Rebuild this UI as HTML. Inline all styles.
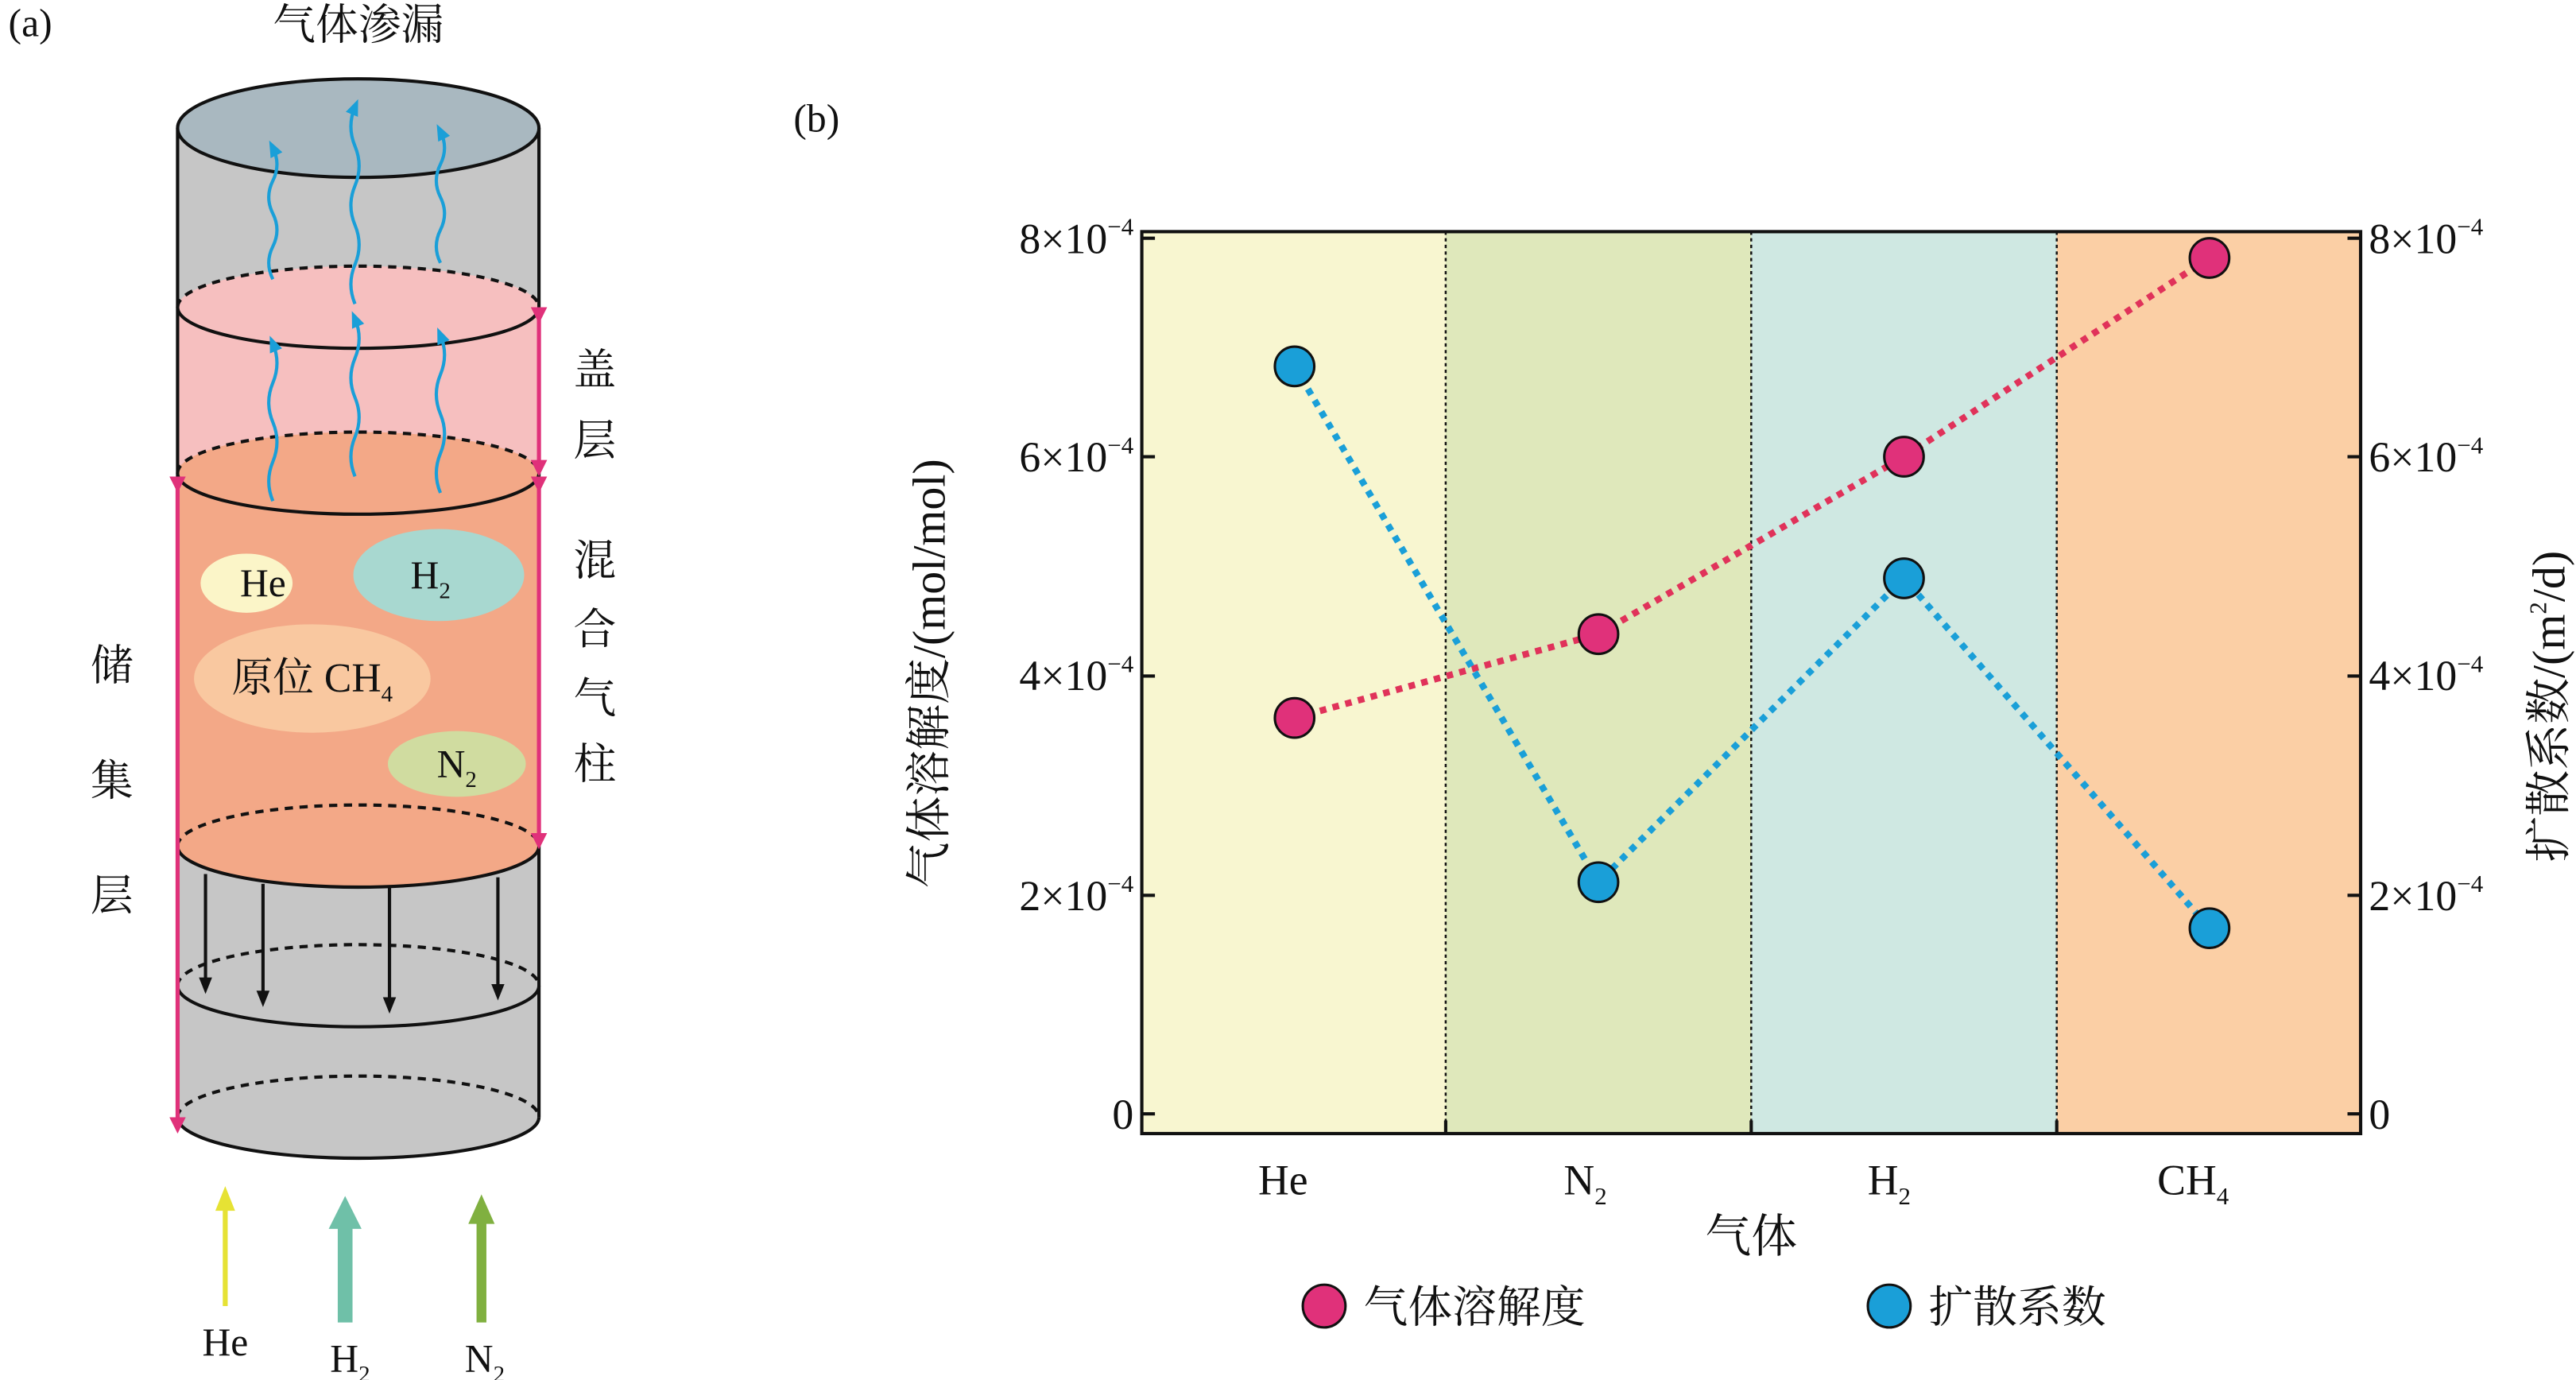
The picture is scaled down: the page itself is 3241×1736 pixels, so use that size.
<!DOCTYPE html>
<html><head><meta charset="utf-8"><style>
html,body{margin:0;padding:0;background:#fff;}
svg{display:block;}
text{font-family:"Liberation Serif","Noto Serif CJK SC","Noto Sans CJK SC",serif;fill:#111;}
</style></head><body>
<svg width="3241" height="1736" viewBox="0 0 1568 840" xmlns="http://www.w3.org/2000/svg">
<defs>
<marker id="ah" markerWidth="10" markerHeight="10" refX="5" refY="5" orient="auto" markerUnits="userSpaceOnUse"><path d="M0,0 L10,5 L0,10 z" fill="#e0317a"/></marker>
<marker id="ak" markerWidth="10" markerHeight="10" refX="5" refY="5" orient="auto" markerUnits="userSpaceOnUse"><path d="M0,1 L10,5 L0,9 z" fill="#111"/></marker>
<marker id="ab" markerWidth="10" markerHeight="10" refX="5" refY="5" orient="auto" markerUnits="userSpaceOnUse"><path d="M0,1 L10,5 L0,9 z" fill="#1a9fd8"/></marker>
</defs>
<text x="5" y="22" font-size="24">(a)</text>
<text x="218" y="24" font-size="26" text-anchor="middle">气体渗漏</text>
<rect x="108" y="78" width="220" height="602" fill="#c6c6c6"/>
<ellipse cx="218" cy="680" rx="110" ry="25" fill="#c6c6c6"/>
<path d="M108,187 A110,25 0 0 1 328,187 L328,288 A110,25 0 0 1 108,288 Z" fill="#f6bfbf"/>
<path d="M108,288 A110,25 0 0 1 328,288 L328,515 A110,25 0 0 1 108,515 Z" fill="#f3a887"/>
<ellipse cx="218" cy="78" rx="110" ry="30" fill="#a9b8c0" stroke="#111" stroke-width="2"/>
<line x1="108" y1="78" x2="108" y2="680" stroke="#111" stroke-width="2"/>
<line x1="328" y1="78" x2="328" y2="680" stroke="#111" stroke-width="2"/>
<g fill="none" stroke="#111" stroke-width="2">
<path d="M108,187 A110,25 0 0 1 328,187" stroke-dasharray="5,4"/><path d="M108,187 A110,25 0 0 0 328,187"/>
<path d="M108,288 A110,25 0 0 1 328,288" stroke-dasharray="5,4"/><path d="M108,288 A110,25 0 0 0 328,288"/>
<path d="M108,515 A110,25 0 0 1 328,515" stroke-dasharray="5,4"/><path d="M108,515 A110,25 0 0 0 328,515"/>
<path d="M108,600 A110,25 0 0 1 328,600" stroke-dasharray="5,4"/><path d="M108,600 A110,25 0 0 0 328,600"/>
<path d="M108,680 A110,25 0 0 1 328,680" stroke-dasharray="5,4"/><path d="M108,680 A110,25 0 0 0 328,680"/>
</g>
<g stroke="#e0317a" stroke-width="2.5">
<line x1="328" y1="192" x2="328" y2="285" marker-start="url(#ah)" marker-end="url(#ah)"/>
<line x1="328" y1="295" x2="328" y2="512" marker-start="url(#ah)" marker-end="url(#ah)"/>
<line x1="108" y1="295" x2="108" y2="685" marker-start="url(#ah)" marker-end="url(#ah)"/>
</g>
<g fill="none" stroke="#1a9fd8" stroke-width="2">
<path d="M166,170 q-5,-10 0,-20 q5,-10 0,-20 q-5,-10 0,-20 q5,-10 0,-20" marker-end="url(#ab)"/>
<path d="M216,185 q-5,-12 0,-24 q5,-12 0,-24 q-5,-12 0,-24 q5,-12 0,-24 q-5,-12 0,-24" marker-end="url(#ab)"/>
<path d="M268,160 q-5,-10 0,-20 q5,-10 0,-20 q-5,-10 0,-20 q5,-10 0,-20" marker-end="url(#ab)"/>
<path d="M166,305 q-5,-12 0,-24 q5,-12 0,-24 q-5,-12 0,-24 q5,-12 0,-24" marker-end="url(#ab)"/>
<path d="M216,290 q-5,-12 0,-24 q5,-12 0,-24 q-5,-12 0,-24 q5,-12 0,-24" marker-end="url(#ab)"/>
<path d="M268,300 q-5,-12 0,-24 q5,-12 0,-24 q-5,-12 0,-24 q5,-12 0,-24" marker-end="url(#ab)"/>
</g>
<ellipse cx="150" cy="355" rx="28" ry="18" fill="#fbf5c8"/>
<text x="160" y="363" font-size="24" text-anchor="middle">He</text>
<ellipse cx="267" cy="350" rx="52" ry="28" fill="#a8d8d0"/>
<text x="262" y="358" font-size="24" text-anchor="middle">H<tspan font-size="14" dy="6">2</tspan></text>
<ellipse cx="190" cy="413" rx="72" ry="33" fill="#f9c8a0"/>
<text x="190" y="421" font-size="25" text-anchor="middle">原位 CH<tspan font-size="14" dy="6">4</tspan></text>
<ellipse cx="278" cy="465" rx="42" ry="20" fill="#d0dca0"/>
<text x="278" y="473" font-size="24" text-anchor="middle">N<tspan font-size="14" dy="6">2</tspan></text>
<g stroke="#111" stroke-width="2">
<line x1="125" y1="532" x2="125" y2="600" marker-end="url(#ak)"/>
<line x1="160" y1="538" x2="160" y2="608" marker-end="url(#ak)"/>
<line x1="237" y1="540" x2="237" y2="612" marker-end="url(#ak)"/>
<line x1="303" y1="534" x2="303" y2="604" marker-end="url(#ak)"/>
</g>
<g font-size="26" text-anchor="middle">
<text x="362" y="234">盖</text><text x="362" y="277">层</text>
<text x="362" y="350">混</text><text x="362" y="392">合</text><text x="362" y="434">气</text><text x="362" y="474">柱</text>
<text x="68" y="414">储</text><text x="68" y="484">集</text><text x="68" y="554">层</text>
</g>
<line x1="137" y1="795" x2="137" y2="735" stroke="#e6e234" stroke-width="3"/><path d="M131,737 L137,722 L143,737 z" fill="#e6e234"/>
<line x1="210" y1="805" x2="210" y2="745" stroke="#6fc0a8" stroke-width="9"/><path d="M200,748 L210,728 L220,748 z" fill="#6fc0a8"/>
<line x1="293" y1="805" x2="293" y2="742" stroke="#80b040" stroke-width="6"/><path d="M285,745 L293,727 L301,745 z" fill="#80b040"/>
<text x="137" y="825" font-size="24" text-anchor="middle">He</text>
<text x="213" y="835" font-size="24" text-anchor="middle">H<tspan font-size="14" dy="6">2</tspan></text>
<text x="295" y="835" font-size="24" text-anchor="middle">N<tspan font-size="14" dy="6">2</tspan></text>

<text x="483" y="80" font-size="24">(b)</text>
<rect x="695" y="141" width="185" height="549" fill="#f8f6d0"/>
<rect x="880" y="141" width="186" height="549" fill="#dfe8bb"/>
<rect x="1066" y="141" width="186" height="549" fill="#cfe8e2"/>
<rect x="1252" y="141" width="185" height="549" fill="#fbcfa5"/>
<g stroke="#111" stroke-width="1.2" stroke-dasharray="2,2">
<line x1="880" y1="141" x2="880" y2="690"/><line x1="1066" y1="141" x2="1066" y2="690"/><line x1="1252" y1="141" x2="1252" y2="690"/>
</g>
<rect x="695" y="141" width="742" height="549" fill="none" stroke="#111" stroke-width="2"/>
<g stroke="#111" stroke-width="2">
<line x1="695" y1="678" x2="703" y2="678"/><line x1="695" y1="545" x2="703" y2="545"/><line x1="695" y1="411.5" x2="703" y2="411.5"/><line x1="695" y1="278" x2="703" y2="278"/><line x1="695" y1="145" x2="703" y2="145"/>
<line x1="1429" y1="678" x2="1437" y2="678"/><line x1="1429" y1="545" x2="1437" y2="545"/><line x1="1429" y1="411.5" x2="1437" y2="411.5"/><line x1="1429" y1="278" x2="1437" y2="278"/><line x1="1429" y1="145" x2="1437" y2="145"/>
<line x1="880" y1="690" x2="880" y2="682"/><line x1="1066" y1="690" x2="1066" y2="682"/><line x1="1252" y1="690" x2="1252" y2="682"/>
</g>
<g font-size="26" text-anchor="end">
<text x="690" y="687">0</text>
<text x="690" y="554">2×10<tspan font-size="15" dy="-11">−4</tspan></text>
<text x="690" y="420">4×10<tspan font-size="15" dy="-11">−4</tspan></text>
<text x="690" y="287">6×10<tspan font-size="15" dy="-11">−4</tspan></text>
<text x="690" y="154">8×10<tspan font-size="15" dy="-11">−4</tspan></text>
</g>
<g font-size="26">
<text x="1442" y="687">0</text>
<text x="1442" y="554">2×10<tspan font-size="15" dy="-11">−4</tspan></text>
<text x="1442" y="420">4×10<tspan font-size="15" dy="-11">−4</tspan></text>
<text x="1442" y="287">6×10<tspan font-size="15" dy="-11">−4</tspan></text>
<text x="1442" y="154">8×10<tspan font-size="15" dy="-11">−4</tspan></text>
</g>
<g font-size="26" text-anchor="middle">
<text x="781" y="727">He</text>
<text x="965" y="727">N<tspan font-size="15" dy="6">2</tspan></text>
<text x="1150" y="727">H<tspan font-size="15" dy="6">2</tspan></text>
<text x="1335" y="727">CH<tspan font-size="15" dy="6">4</tspan></text>
<text x="1066" y="762" font-size="28">气体</text>
</g>
<text transform="translate(575,410) rotate(-90)" font-size="28" text-anchor="middle">气体溶解度/(mol/mol)</text>
<text transform="translate(1561,430) rotate(-90)" font-size="28" text-anchor="middle">扩散系数/(m<tspan font-size="15" dy="-11">2</tspan><tspan dy="11">/d)</tspan></text>
<polyline points="788,437 973,386 1159,278 1345,157" fill="none" stroke="#e0325a" stroke-width="4" stroke-dasharray="4,4"/>
<polyline points="788,223 973,537 1159,352 1345,565" fill="none" stroke="#1a9fd8" stroke-width="4" stroke-dasharray="4,4"/>
<g stroke="#111" stroke-width="1.5">
<circle cx="788" cy="437" r="12" fill="#e0317a"/><circle cx="973" cy="386" r="12" fill="#e0317a"/><circle cx="1159" cy="278" r="12" fill="#e0317a"/><circle cx="1345" cy="157" r="12" fill="#e0317a"/>
<circle cx="788" cy="223" r="12" fill="#1a9fd8"/><circle cx="973" cy="537" r="12" fill="#1a9fd8"/><circle cx="1159" cy="352" r="12" fill="#1a9fd8"/><circle cx="1345" cy="565" r="12" fill="#1a9fd8"/>
<circle cx="806" cy="795" r="13" fill="#e0317a"/><circle cx="1150" cy="795" r="13" fill="#1a9fd8"/>
</g>
<text x="830" y="805" font-size="27">气体溶解度</text>
<text x="1174" y="805" font-size="27">扩散系数</text>
</svg>
</body></html>
